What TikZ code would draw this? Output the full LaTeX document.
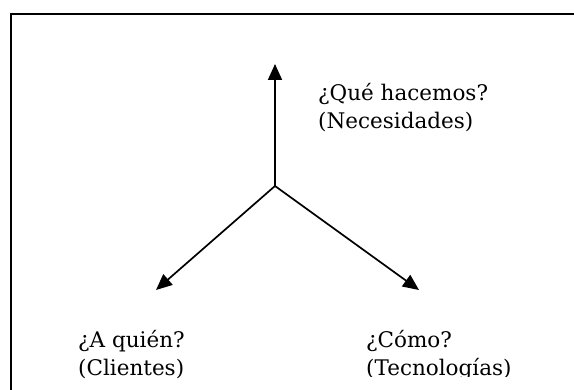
\documentclass[tikz,border=0pt]{standalone}
\usepackage{fontspec}
\setmainfont{DejaVu Serif}
\usepackage{tikz}
\usetikzlibrary{arrows.meta}

\begin{document}
\begin{tikzpicture}[x=1pt,y=1pt]
\tikzstyle{every node}=[font=\fontsize{21.5}{28}\selectfont, align=left, inner sep=0pt, anchor=north west]
\tikzstyle{axis}=[line width=1.7pt, -{Triangle[length=16pt,width=14pt]}]
\useasboundingbox (0,0) rectangle (574,390);
\clip (0,0) rectangle (574,390);
\draw [line width=1.8pt] (11,-20) rectangle (600,376);
\coordinate (centre) at (275,204);
\coordinate (up) at (275,326);
\coordinate (left) at (156,100);
\coordinate (right) at (419,100);
\draw [axis] (centre) -- (up);
\draw [axis] (centre) -- (left);
\draw [axis] (centre) -- (right);
\node (que) at (318,307) {¿Qué hacemos?\\(Necesidades)};
\node (quien) at (78,60) {¿A quién?\\(Clientes)};
\begin{scope}
\clip (300,13.5) rectangle (574,390);
\node (como) at (366,60) {¿Cómo?\\(Tecnologías)};
\end{scope}
\end{tikzpicture}
\end{document}
